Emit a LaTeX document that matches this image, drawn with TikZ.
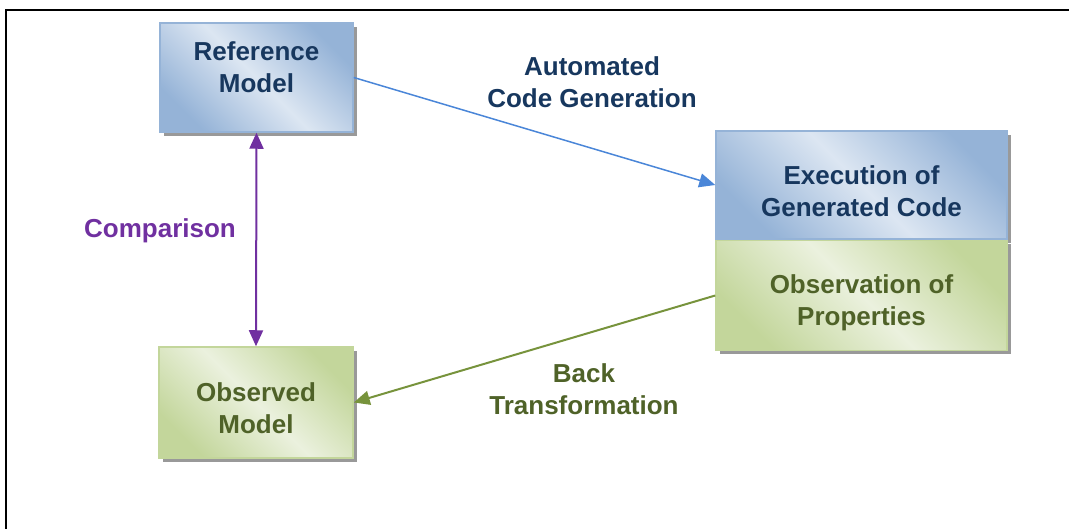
\documentclass[tikz,border=0pt]{standalone}
\usepackage{fontspec}
\setmainfont{Liberation Sans}
\usepackage{xcolor}
\usepackage{tikz}
\usetikzlibrary{positioning, arrows.meta, shadows}

\definecolor{bluedark}{HTML}{95B3D7}
\definecolor{bluelight}{HTML}{DCE6F2}
\definecolor{bluetext}{HTML}{17375E}
\definecolor{greendark}{HTML}{C3D69B}
\definecolor{greenlight}{HTML}{EBF1DE}
\definecolor{greentext}{HTML}{4F6228}
\definecolor{arrowblue}{HTML}{4A86D8}
\definecolor{arrowgreen}{HTML}{77933C}
\definecolor{cmppurple}{HTML}{7030A0}

\tikzset{
  boxtext/.style={align=center, font=\fontsize{26}{32}\selectfont\bfseries},
  boxshadow/.style={drop shadow={shadow xshift=4pt, shadow yshift=-4pt, fill=black!40, opacity=1}},
  bluebox/.style={boxtext, boxshadow, draw=bluedark, line width=1.5pt, text=bluetext,
    top color=bluedark, bottom color=bluedark, middle color=bluelight, shading angle=-45},
  greenbox/.style={boxtext, boxshadow, draw=greendark, line width=1.5pt, text=greentext,
    top color=greendark, bottom color=greendark, middle color=greenlight, shading angle=-45}
}

\begin{document}
\begin{tikzpicture}[x=1pt, y=-1pt, >={Triangle[length=16pt, width=14pt]}]

    \useasboundingbox (0,0) rectangle (1069,529);

    % --- Frame (top and left edges only) ---
    \draw[line width=2pt] (1069,10) -- (6,10) -- (6,529);

    % --- Left column ---
    % rules only pad the text up or down inside its box
    \node[bluebox, minimum width=193pt, minimum height=109pt] (refmodel) at (256.5,77.5)
        {Reference\\Model\rule[-20pt]{0pt}{20pt}};
    \node[greenbox, minimum width=194pt, minimum height=111pt] (obsmodel) at (256,402.5)
        {\rule{0pt}{31pt}Observed\\Model};

    % --- Right stack ---
    \node[bluebox, minimum width=291pt, minimum height=108pt] (execcode) at (861.5,185)
        {\rule{0pt}{31pt}Execution of\\Generated Code};
    \node[greenbox, minimum width=291pt, minimum height=110pt, below=0pt of execcode] (obsprops)
        {\rule{0pt}{33pt}Observation of\\Properties};

    % --- Labels ---
    \node[boxtext, text=bluetext] (genlabel) at (592,82) {Automated\\Code Generation};
    \node[boxtext, text=cmppurple] (cmplabel) at (160,231) {Comparison};
    \node[boxtext, text=greentext] (backlabel) at (584,389) {Back\\Transformation};

    % --- Connectors ---
    \draw[->, arrowblue, line width=1.5pt] (refmodel.east) -- (execcode.west);
    \draw[<->, cmppurple, line width=2pt] (refmodel.south) -- (obsmodel.north);
    \draw[->, arrowgreen, line width=2pt] (obsprops.west) -- (obsmodel.east);

\end{tikzpicture}
\end{document}
